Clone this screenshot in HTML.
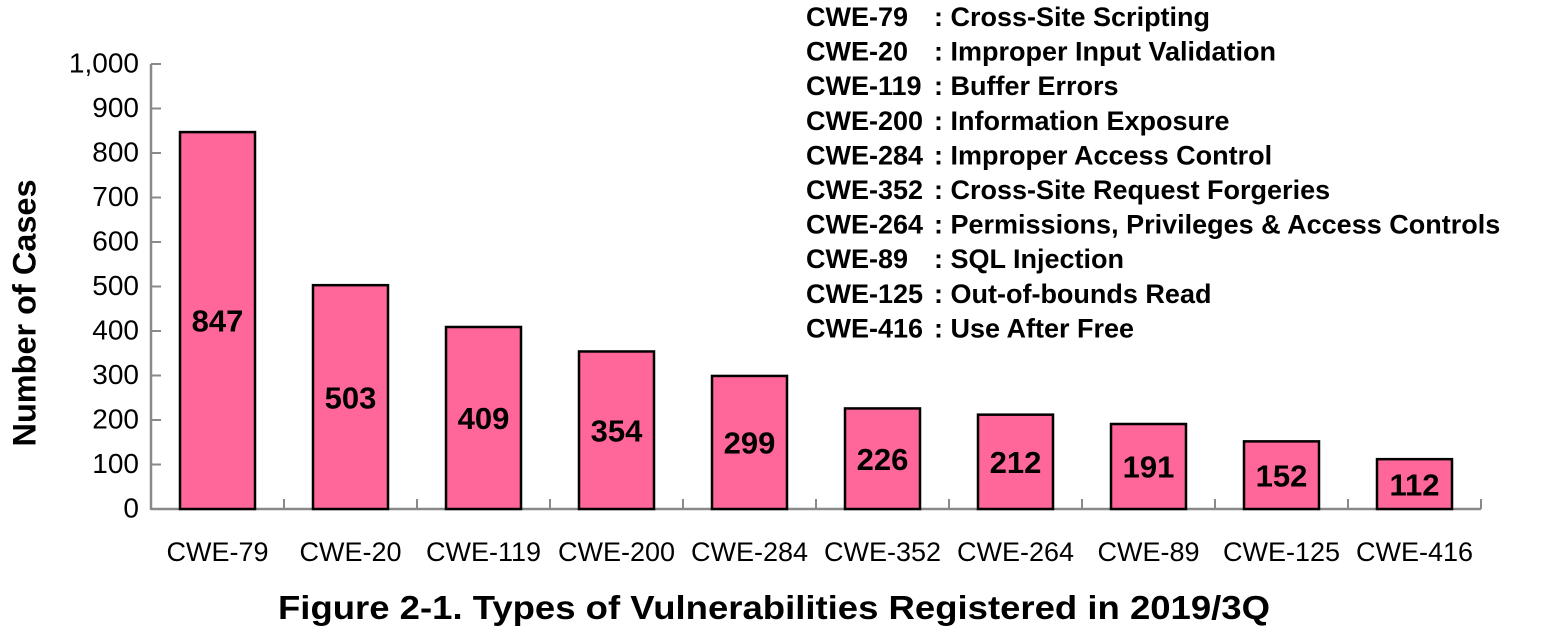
<!DOCTYPE html>
<html><head><meta charset="utf-8"><style>
body{margin:0;background:#fff}
svg{display:block;font-family:"Liberation Sans",sans-serif}
</style></head><body>
<svg id="chart" width="1554" height="635" viewBox="0 0 1554 635">
<g id="legend" font-weight="bold" font-size="27" fill="#000"></g>
<g id="yaxis"></g>
<g id="xaxis"></g>
<g id="bars"></g>
<text x="27" y="313" transform="rotate(-90 27 313)" text-anchor="middle" dominant-baseline="middle" font-size="32" font-weight="bold" textLength="267" lengthAdjust="spacingAndGlyphs">Number of Cases</text>
<text x="774" y="619" text-anchor="middle" font-size="33" font-weight="bold" textLength="992" lengthAdjust="spacingAndGlyphs">Figure 2-1. Types of Vulnerabilities Registered in 2019/3Q</text>
</svg>
<script>
const categories=["CWE-79","CWE-20","CWE-119","CWE-200","CWE-284","CWE-352","CWE-264","CWE-89","CWE-125","CWE-416"];
const values=[847,503,409,354,299,226,212,191,152,112];
const yTicks=[0,100,200,300,400,500,600,700,800,900,1000];
const yTickLabels=["0","100","200","300","400","500","600","700","800","900","1,000"];
const legendCodes=["CWE-79","CWE-20","CWE-119","CWE-200","CWE-284","CWE-352","CWE-264","CWE-89","CWE-125","CWE-416"];
const legendNames=["Cross-Site Scripting","Improper Input Validation","Buffer Errors","Information Exposure","Improper Access Control","Cross-Site Request Forgeries","Permissions, Privileges & Access Controls","SQL Injection","Out-of-bounds Read","Use After Free"];

const NS="http://www.w3.org/2000/svg";
const X0=151,X1=1481,Y0=509,Y1=64,YMAX=1000;
const band=(X1-X0)/categories.length;
const y=v=>Y0-(v/YMAX)*(Y0-Y1);
const xc=i=>X0+band*(i+0.5);
function mk(tag,attrs,parent,text){const e=document.createElementNS(NS,tag);for(const k in attrs)e.setAttribute(k,attrs[k]);if(text!=null)e.textContent=text;parent.appendChild(e);return e;}

const ya=document.getElementById('yaxis');
let l=mk('line',{x1:X0,y1:Y1,x2:X0,y2:Y0+1,stroke:'#898989','stroke-width':2.5},ya);


yTicks.forEach((t,i)=>{
  const tk=mk('line',{x1:X0,y1:y(t),x2:X0+10,y2:y(t),stroke:'#898989','stroke-width':2},ya);
  
  
  const tx=mk('text',{x:139,y:y(t)+1,'text-anchor':'end','dominant-baseline':'middle','font-size':28},ya,yTickLabels[i]);
  
  
});
const xa=document.getElementById('xaxis');
l=mk('line',{x1:X0,y1:Y0,x2:X1,y2:Y0,stroke:'#898989','stroke-width':2.5},xa);


for(let i=1;i<=categories.length;i++){
  const tk=mk('line',{x1:X0+band*i,y1:Y0,x2:X0+band*i,y2:Y0-10,stroke:'#898989','stroke-width':2},xa);
  
  
}
const bg=document.getElementById('bars');
categories.forEach((c,i)=>{
  const bw=75;
  const r=mk('rect',{x:xc(i)-bw/2,y:y(values[i]),width:bw,height:Y0-y(values[i]),fill:'#FF6699',stroke:'#000','stroke-width':2.5},bg);
  
  
  const vl=mk('text',{x:xc(i),y:(y(values[i])+Y0)/2+3,'text-anchor':'middle','dominant-baseline':'middle','font-size':31,'font-weight':'bold'},bg,String(values[i]));
  
  
  const xl=mk('text',{x:xc(i),y:561,'text-anchor':'middle','font-size':27},xa,c);
  
  
});
const lg=document.getElementById('legend');
legendCodes.forEach((c,i)=>{
  const yy=26+i*34.6;
  const a=mk('text',{x:806,y:yy},lg,c);
  
  
  const b=mk('text',{x:934,y:yy},lg,': '+legendNames[i]);
  
  
});
</script>
</body></html>
